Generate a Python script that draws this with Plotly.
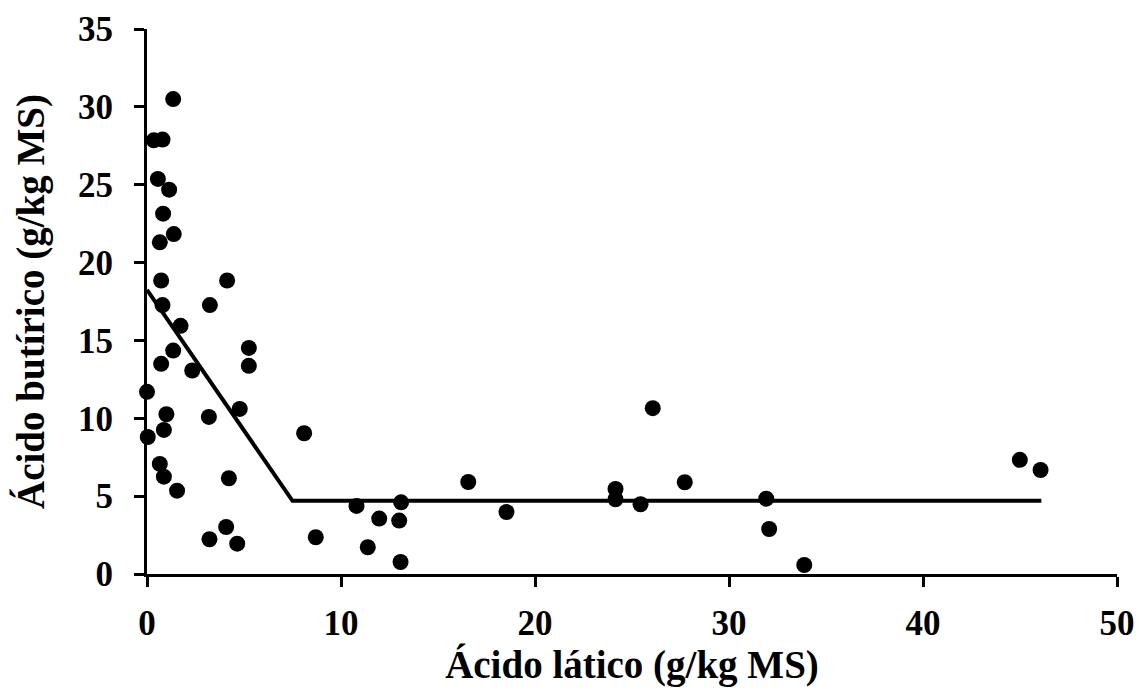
import plotly.graph_objects as go

# Observed lactic vs butyric acid (g/kg DM)
lactic = [1.35, 0.35, 0.80, 0.56, 1.14, 0.83, 1.38, 0.66, 0.73, 4.13,
          0.80, 3.24, 1.73, 5.25, 1.35, 0.73, 5.25, 2.33, 0.00, 4.78,
          1.00, 3.19, 0.87, 8.10, 0.04, 0.66, 0.87, 4.22, 1.55, 4.08,
          3.22, 4.65, 8.70, 16.56, 10.80, 13.10, 11.97, 13.00, 18.53, 11.38,
          13.07, 26.07, 24.15, 24.15, 25.44, 27.72, 31.92, 32.07, 33.88, 44.99,
          46.06]
butyric = [30.5, 27.85, 27.9, 25.37, 24.68, 23.14, 21.83, 21.3, 18.85, 18.85,
           17.27, 17.27, 15.94, 14.52, 14.35, 13.5, 13.37, 13.07, 11.7, 10.6,
           10.26, 10.09, 9.25, 9.04, 8.8, 7.07, 6.25, 6.15, 5.35, 3.02,
           2.23, 1.95, 2.36, 5.91, 4.37, 4.6, 3.56, 3.43, 3.98, 1.72,
           0.77, 10.65, 5.46, 4.8, 4.48, 5.89, 4.84, 2.89, 0.58, 7.33,
           6.68]

# Broken-line (linear-plateau) fit
fit_x = [0.0, 7.5, 46.1]
fit_y = [18.25, 4.7, 4.7]

x_ticks = [0, 10, 20, 30, 40, 50]
y_ticks = [0, 5, 10, 15, 20, 25, 30, 35]

font_family = "Liberation Serif"
tick_font = dict(family=font_family, size=35, color="black", weight="bold")
title_font = dict(family=font_family, size=39, color="black", weight="bold")

fig = go.Figure()
fig.add_trace(go.Scatter(
    x=fit_x, y=fit_y, mode="lines",
    line=dict(color="black", width=4),
    showlegend=False, hoverinfo="skip",
))
fig.add_trace(go.Scatter(
    x=lactic, y=butyric, mode="markers",
    marker=dict(color="black", size=16, line=dict(width=0)),
    cliponaxis=False, showlegend=False,
))

axis_common = dict(
    showline=True, linecolor="black", linewidth=3,
    ticks="outside", ticklen=10, tickwidth=3, tickcolor="black",
    showgrid=False, zeroline=False, automargin=False,
    tickfont=tick_font,
)

fig.update_layout(
    width=1140, height=689,
    margin=dict(l=147, r=23, t=29, b=115),
    paper_bgcolor="white", plot_bgcolor="white",
    xaxis=dict(
        range=[0, 50], tickvals=x_ticks, ticklabelstandoff=6,
        title=dict(text="Ácido lático (g/kg MS)", standoff=5, font=title_font),
        **axis_common,
    ),
    yaxis=dict(
        range=[0, 35], tickvals=y_ticks, ticklabelstandoff=14,
        title=dict(text="Ácido butírico (g/kg MS)", standoff=22, font=title_font),
        **axis_common,
    ),
)

fig.write_html("out.html")
